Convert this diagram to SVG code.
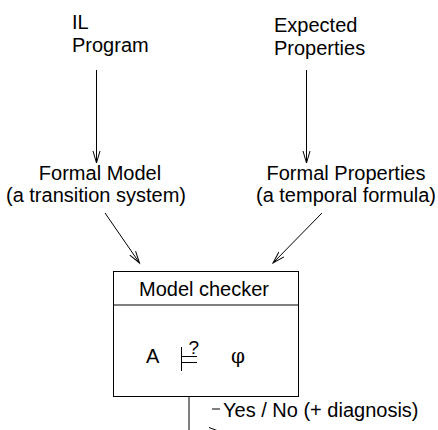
<svg xmlns="http://www.w3.org/2000/svg" width="438" height="430" viewBox="0 0 438 430">
<defs>
<marker id="arr" markerUnits="userSpaceOnUse" markerWidth="14" markerHeight="10" viewBox="0 0 14 10" refX="12" refY="5" orient="auto">
<path d="M0,1.5 L12,5 L0,8.5" fill="none" stroke="#000" stroke-width="1"/>
</marker>
<style>
text{font-family:"Liberation Sans",Arial,sans-serif;font-size:20px;fill:#000}
.ln{stroke:#000;stroke-width:1;fill:none}
.c{text-anchor:middle}
</style>
</defs>
<g id="il-program">
<text x="72" y="29">IL</text>
<text x="72" y="52">Program</text>
</g>
<g id="expected-properties">
<text x="274" y="32">Expected</text>
<text x="274" y="55">Properties</text>
</g>
<g id="formal-model">
<text class="c" x="100" y="180">Formal Model</text>
<text class="c" x="96" y="202">(a transition system)</text>
</g>
<g id="formal-properties">
<text class="c" x="346" y="180">Formal Properties</text>
<text class="c" x="346" y="202">(a temporal formula)</text>
</g>
<g id="model-checker">
<rect class="ln" x="113.5" y="271.5" width="185" height="125"/>
<line class="ln" x1="113.5" y1="305" x2="298.5" y2="305"/>
<text class="c" x="204" y="296">Model checker</text>
<text x="146" y="363">A</text>
<text x="188.5" y="354" style="font-size:19px">?</text>
<g id="models-symbol">
<line class="ln" x1="181.5" y1="347" x2="181.5" y2="371"/>
<line class="ln" x1="181.5" y1="356.5" x2="197" y2="356.5"/>
<line class="ln" x1="181.5" y1="362.5" x2="197" y2="362.5"/>
</g>
<text x="231" y="363" style="font-family:'DejaVu Serif','Liberation Serif',serif">φ</text>
</g>
<g id="result">
<text x="223" y="417">Yes / No (+ diagnosis)</text>
</g>
<g id="connectors">
<line class="ln" x1="96.5" y1="70" x2="96.5" y2="163" marker-end="url(#arr)"/>
<line class="ln" x1="306.5" y1="70" x2="306.5" y2="163" marker-end="url(#arr)"/>
<line class="ln" x1="105" y1="213" x2="139.5" y2="263" marker-end="url(#arr)"/>
<line class="ln" x1="322" y1="213" x2="273" y2="263" marker-end="url(#arr)"/>
<line class="ln" x1="189" y1="396.5" x2="189" y2="430"/>
<line class="ln" x1="212" y1="409" x2="220" y2="409"/>
<line class="ln" x1="209" y1="427.5" x2="217" y2="430.5"/>
</g>
</svg>
